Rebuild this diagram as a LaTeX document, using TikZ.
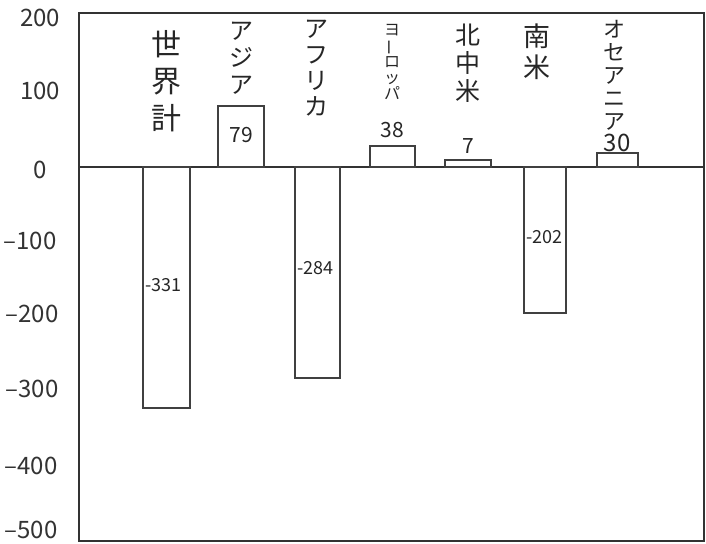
\documentclass[tikz,border=0pt]{standalone}
\usepackage{fontspec}
\newfontfamily\jpfont{Noto Sans CJK JP}
\usetikzlibrary{positioning}

\tikzset{bar/.style={draw=black!75,line width=1.1pt}}
\newcommand{\fsz}[2]{\jpfont\fontsize{#1}{#2}\selectfont}

\begin{document}
\begin{tikzpicture}[x=1pt,y=-1pt]
\useasboundingbox (0,0) rectangle (706,543);

% frame and zero line
\draw[line width=1.6pt,draw=black!80] (79,13) rectangle (704,541);
\draw[line width=1.4pt,draw=black!80] (79,167) -- (704,167);

% bars
\draw[bar] (143,167) rectangle (190,408);
\draw[bar] (218,167) rectangle (264,106);
\draw[bar] (295,167) rectangle (340,378);
\draw[bar] (370,167) rectangle (415,146);
\draw[bar] (445,167) rectangle (491,160);
\draw[bar] (524,167) rectangle (566,313);
\draw[bar] (597,167) rectangle (638,153);

% y axis
\begin{scope}[every node/.style={text=black!80,font=\fsz{24}{24}}]
    \node (y200)  at (40,18)  {200};
    \node (y100)  at (40,91)  {100};
    \node (y0)    at (40,170) {0};
    \node (ym100) at (30,241) {–100};
    \node (ym200) at (32,314) {–200};
    \node (ym300) at (32,389) {–300};
    \node (ym400) at (31,466) {–400};
    \node (ym500) at (31,530) {–500};
\end{scope}

% region names
\begin{scope}[every node/.style={anchor=north,align=center,inner sep=0pt,text=black!85}]
    \node[font=\fsz{30}{37}] (world)   at (166,30) {世\\界\\計};
    \node[font=\fsz{24}{27}] (asia)    at (241,22) {ア\\ジ\\ア};
    \node[font=\fsz{24}{26}] (africa)  at (316,20) {ア\\フ\\リ\\カ};
    \node[font=\fsz{16}{16}] (europe)  at (392,24) {ヨ\\\rotatebox[origin=c]{90}{ー}\\ロ\\ッ\\パ};
    \node[font=\fsz{25}{28}] (namer)   at (468,24) {北\\中\\米};
    \node[font=\fsz{27}{31}] (samer)   at (537,24) {南\\米};
    \node[font=\fsz{22}{23}] (oceania) at (614,20) {オ\\セ\\ア\\ニ\\ア};
\end{scope}

% values
\begin{scope}[every node/.style={text=black!85,font=\fsz{21}{21},inner sep=1pt}]
    \node (v_asia)    at (241,135) {79};
    \node (v_europe)  at (392,130) {38};
    \node (v_namer)   at (468,146) {7};
    \node[font=\fsz{24}{24}] (v_oceania) at (617,143) {30};
    \node[anchor=west,font=\fsz{18}{18}] (v_world)  at (144,285) {-331};
    \node[anchor=west,font=\fsz{18}{18}] (v_africa) at (296,268) {-284};
    \node[anchor=west,font=\fsz{18}{18}] (v_samer)  at (525,237) {-202};
\end{scope}
\end{tikzpicture}
\end{document}
